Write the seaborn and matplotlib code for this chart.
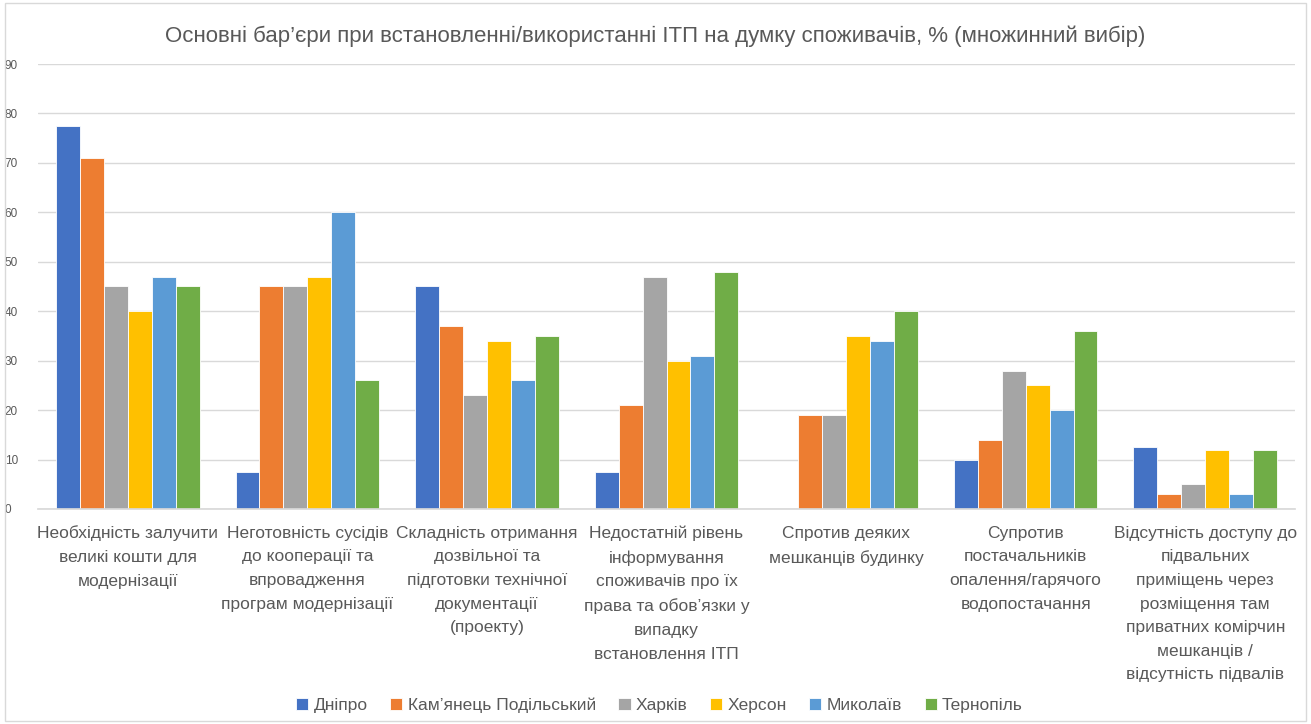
import pandas as pd
import numpy as np
import matplotlib
matplotlib.use("Agg")
import matplotlib.pyplot as plt
import seaborn as sns

# Дані з діаграми
categories = [
    "Необхідність залучити\nвеликі кошти для\nмодернізації",
    "Неготовність сусідів\nдо кооперації та\nвпровадження\nпрограм модернізації",
    "Складність отримання\nдозвільної та\nпідготовки технічної\nдокументації\n(проекту)",
    "Недостатній рівень\nінформування\nспоживачів про їх\nправа та обов’язки у\nвипадку\nвстановлення ІТП",
    "Спротив деяких\nмешканців будинку",
    "Супротив\nпостачальників\nопалення/гарячого\nводопостачання",
    "Відсутність доступу до\nпідвальних\nприміщень через\nрозміщення там\nприватних комірчин\nмешканців /\nвідсутність підвалів",
]
cities = ["Дніпро", "Кам’янець Подільський", "Харків", "Херсон", "Миколаїв", "Тернопіль"]

dnipro = [77.5, 7.5, 45, 7.5, 0, 10, 12.5]
kamianets = [71, 45, 37, 21, 19, 14, 3]
kharkiv = [45, 45, 23, 47, 19, 28, 5]
kherson = [40, 47, 34, 30, 35, 25, 12]
mykolaiv = [47, 60, 26, 31, 34, 20, 3]
ternopil = [45, 26, 35, 48, 40, 36, 12]

colors = ["#4472C4", "#ED7D31", "#A5A5A5", "#FFC000", "#5B9BD5", "#70AD47"]

series = [dnipro, kamianets, kharkiv, kherson, mykolaiv, ternopil]
rows = []
for city, vals in zip(cities, series):
    for cat, v in zip(categories, vals):
        rows.append({"Категорія": cat, "Місто": city, "Значення": v})
df = pd.DataFrame(rows)

sns.set_theme(style="white")
plt.rcParams["font.family"] = ["Liberation Sans", "DejaVu Sans"]
text_color = "#595959"

fig = plt.figure(figsize=(13.11, 7.24), dpi=100)
ax = fig.add_axes([0.029, 0.297, 0.9588, 0.6146])

sns.barplot(data=df, x="Категорія", y="Значення", hue="Місто", order=categories,
            hue_order=cities, palette=colors, width=0.8, gap=0, ax=ax,
            edgecolor="white", linewidth=0.6, saturation=1, legend=True)

ax.set_ylim(0, 90)
ax.set_yticks(np.arange(0, 91, 10))
ax.yaxis.grid(True, color="#d9d9d9", linewidth=1)
ax.set_axisbelow(True)
for s in ["top", "right", "left"]:
    ax.spines[s].set_visible(False)
ax.spines["bottom"].set_color("#d9d9d9")
ax.tick_params(axis="y", labelsize=8.5, colors=text_color, length=0, pad=24)
ax.tick_params(axis="x", labelsize=12.5, colors=text_color, length=0, pad=12)
for lbl in ax.get_xticklabels():
    lbl.set_linespacing(1.72)
    lbl.set_va("top")
for lbl in ax.get_yticklabels():
    lbl.set_ha("left")
ax.set_xlabel("")
ax.set_ylabel("")

fig.suptitle("Основні бар’єри при встановленні/використанні ІТП на думку споживачів, % (множинний вибір)",
             y=0.965, fontsize=16, color=text_color)

handles, labels = ax.get_legend_handles_labels()
ax.legend_.remove()
fig.legend(handles, labels, loc="center", bbox_to_anchor=(0.503, 0.026), ncol=6,
           frameon=False, fontsize=12.5, handlelength=0.7, handleheight=0.7,
           handletextpad=0.3, columnspacing=1.3, labelcolor=text_color)

border = plt.Rectangle((0.004, 0.004), 0.992, 0.992, transform=fig.transFigure,
                       fill=False, edgecolor="#d9d9d9", linewidth=1)
fig.patches.append(border)

fig.savefig("out.png", dpi=100)
